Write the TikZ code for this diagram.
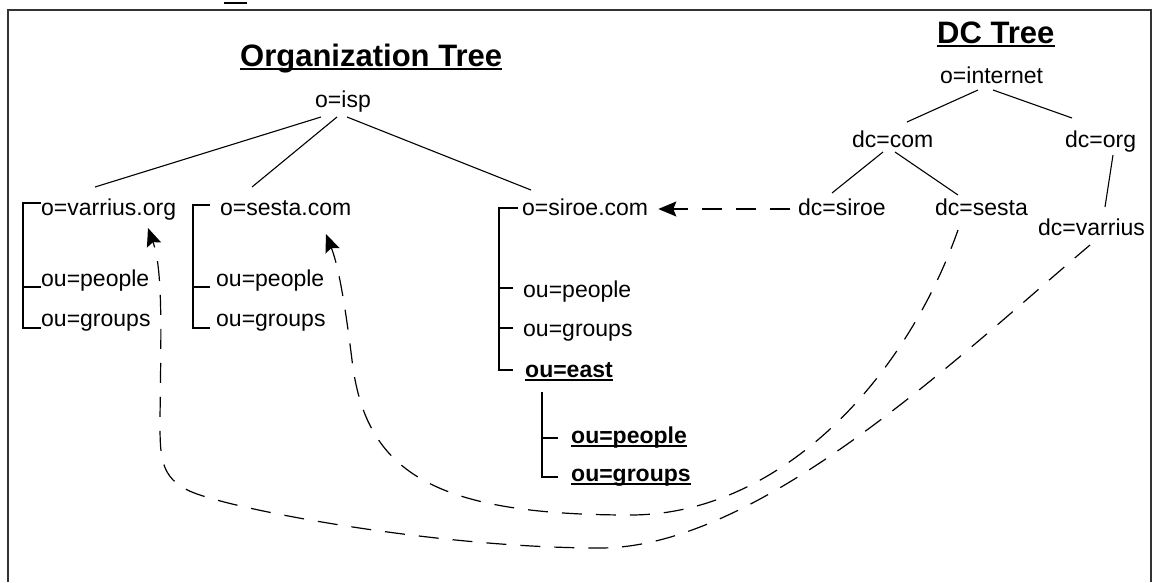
\documentclass[tikz,border=0pt]{standalone}
\usepackage{fontspec}
\setmainfont{Liberation Sans}
\usetikzlibrary{calc,arrows.meta}
\begin{document}
\begin{tikzpicture}[x=1pt,y=-1pt,
  lbl/.style={anchor=base west,inner sep=0pt,font=\fontsize{23}{27}\selectfont},
  blbl/.style={anchor=base west,inner sep=0pt,font=\fontsize{23}{27}\selectfont\bfseries},
  ttl/.style={anchor=base west,inner sep=0pt,font=\fontsize{31}{36}\selectfont\bfseries},
  edge/.style={line width=1.1pt},
  brk/.style={line width=1.3pt},
  ul/.style={line width=1.6pt},
  ttlul/.style={line width=2pt},
  link/.style={line width=1.2pt,dash pattern=on 20pt off 14pt,
    -{Stealth[length=18pt,width=15pt,inset=3pt]}},
]
\useasboundingbox (0,0) rectangle (1157,582);
\fill[white] (0,0) rectangle (1157,582);

% frame
\draw[line width=2pt,black!80] (8,582) |- (1151,10) -- (1151,582);
\draw[line width=2pt] (224,3) -- (247,3);

% titles
\node[ttl] (orgtitle) at (240,66) {Organization Tree};
\node[ttl] (dctitle) at (937,43) {DC Tree};
\draw[ttlul] ($(orgtitle.base west)+(0,3)$) -- ($(orgtitle.base east)+(0,3)$);
\draw[ttlul] ($(dctitle.base west)+(0,3)$) -- ($(dctitle.base east)+(0,3)$);

% organization tree
\node[lbl] (isp) at (315,107) {o=isp};
\node[lbl] (varorg) at (41,215) {o=varrius.org};
\node[lbl] (varpeople) at (41,286) {ou=people};
\node[lbl] (vargroups) at (41,326) {ou=groups};
\node[lbl] (sestacom) at (220,215) {o=sesta.com};
\node[lbl] (sespeople) at (216,286) {ou=people};
\node[lbl] (sesgroups) at (216,326) {ou=groups};
\node[lbl] (sirocom) at (522,215) {o=siroe.com};
\node[lbl] (siropeople) at (523,297) {ou=people};
\node[lbl] (sirogroups) at (523,336) {ou=groups};
\node[blbl] (east) at (525,377) {ou=east};
\node[blbl] (eastpeople) at (571,443) {ou=people};
\node[blbl] (eastgroups) at (571,481) {ou=groups};
\draw[ul] ($(east.base west)+(0,3)$) -- ($(east.base east)+(0,3)$);
\draw[ul] ($(eastpeople.base west)+(0,3)$) -- ($(eastpeople.base east)+(0,3)$);
\draw[ul] ($(eastgroups.base west)+(0,3)$) -- ($(eastgroups.base east)+(0,3)$);

\draw[edge] ($(isp.base west)+(6,10)$) -- ($(varorg.base west)+(54,-28)$);
\draw[edge] ($(isp.base west)+(22,10)$) -- ($(sestacom.base west)+(32,-28)$);
\draw[edge] ($(isp.base west)+(32,10)$) -- ($(sirocom.base west)+(9,-25)$);

% brackets
\draw[brk] ($(varorg.base west)+(0,-12)$) -| ($(vargroups.base west)+(-18,2)$) -- ($(vargroups.base west)+(0,2)$);
\draw[brk] ($(varpeople.base west)+(-18,1)$) -- ($(varpeople.base west)+(0,1)$);

\draw[brk] ($(sestacom.base west)+(-10,-10)$) -| ($(sesgroups.base west)+(-23,2)$) -- ($(sesgroups.base west)+(-6,2)$);
\draw[brk] ($(sespeople.base west)+(-23,1)$) -- ($(sespeople.base west)+(-6,1)$);

\draw[brk] ($(sirocom.base west)+(-4,-7)$) -| ($(east.base west)+(-26,-7)$) -- ($(east.base west)+(-12,-7)$);
\draw[brk] ($(siropeople.base west)+(-24,-9)$) -- ($(siropeople.base west)+(-10,-9)$);
\draw[brk] ($(sirogroups.base west)+(-24,-8)$) -- ($(sirogroups.base west)+(-10,-8)$);

\draw[brk] ($(east.base west)+(17,15)$) |- ($(eastgroups.base west)+(-13,-4)$);
\draw[brk] ($(eastpeople.base west)+(-29,-5)$) -- ($(eastpeople.base west)+(-13,-5)$);

% dc tree
\node[lbl] (internet) at (940,83) {o=internet};
\node[lbl] (dccom) at (852,147) {dc=com};
\node[lbl] (dcorg) at (1065,147) {dc=org};
\node[lbl] (dcsiroe) at (798,215) {dc=siroe};
\node[lbl] (dcsesta) at (935,215) {dc=sesta};
\node[lbl] (dcvarrius) at (1038,235) {dc=varrius};

\draw[edge] ($(internet.base west)+(38,7)$) -- ($(dccom.base west)+(55,-25)$);
\draw[edge] ($(internet.base west)+(53,7)$) -- ($(dcorg.base west)+(7,-29)$);
\draw[edge] ($(dccom.base west)+(31,5)$) -- ($(dcsiroe.base west)+(34,-22)$);
\draw[edge] ($(dccom.base west)+(43,5)$) -- ($(dcsesta.base west)+(23,-20)$);
\draw[edge] ($(dcorg.base west)+(48,8)$) -- ($(dcvarrius.base west)+(67,-28)$);

% links between the trees
\draw[link] ($(dcsiroe.base west)+(-8,-6)$) -- ($(sirocom.base east)+(10,-6)$);
\draw[link] ($(dcsesta.base west)+(23,15)$)
  .. controls (905,380) and (780,515) .. (630,515)
  .. controls (430,515) and (365,470) .. (352,360)
  .. controls (347,320) and (340,270) .. ($(sestacom.base west)+(106,19)$);
\draw[link] ($(dcvarrius.base west)+(52,10)$)
  .. controls (960,355) and (760,548) .. (600,548)
  .. controls (450,548) and (260,515) .. (200,495)
  .. controls (160,482) and (160,460) .. (160,420)
  .. controls (161,330) and (163,270) .. ($(varorg.base west)+(107,13)$);
\end{tikzpicture}
\end{document}
